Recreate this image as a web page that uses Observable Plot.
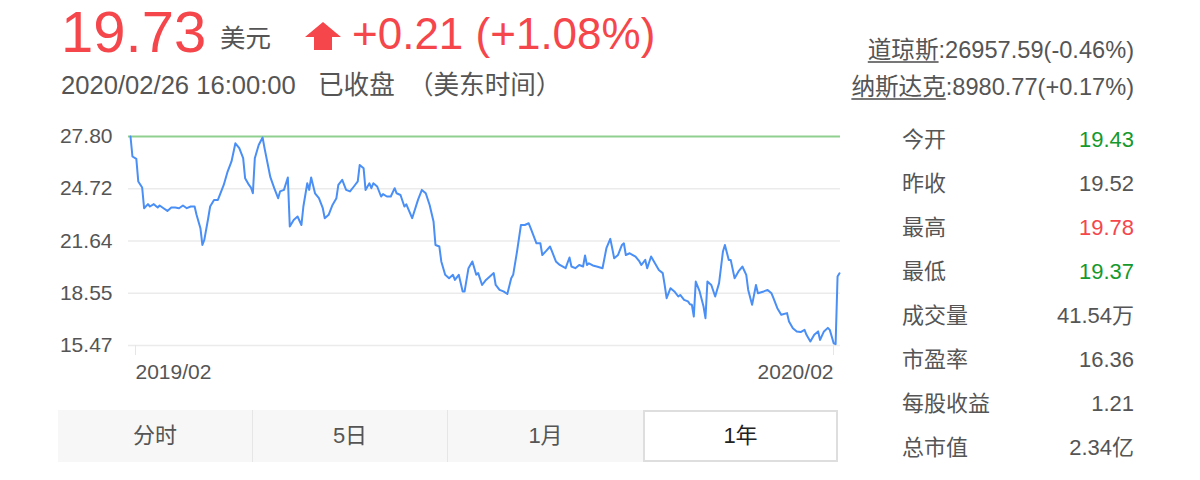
<!DOCTYPE html>
<html><head><meta charset="utf-8">
<script src="https://cdn.jsdelivr.net/npm/d3@7"></script>
<script src="https://cdn.jsdelivr.net/npm/@observablehq/plot@0.6"></script>
<style>
body{margin:0;width:1200px;height:480px;background:#fff;position:relative;overflow:hidden;font-family:"Liberation Sans","Noto Sans CJK SC",sans-serif;color:#555;}
.a{position:absolute;white-space:nowrap;}
#chart{position:absolute;left:0;top:110px;}
.tab{position:absolute;top:410px;height:52px;line-height:52px;text-align:center;font-size:22px;color:#555;box-sizing:border-box;}
.row{position:absolute;left:902px;width:232px;height:30px;line-height:30px;font-size:22px;}
.row .v{position:absolute;right:0;top:0;}
.idx u{text-decoration-color:#777;text-underline-offset:3px;}
</style></head><body>
<div id="header"></div>
<div id="chart"></div>
<div id="tabs"></div>
<div id="stats"></div>
<script>
// ---- data ----
const quotePrice = "19.73";
const currency = "美元";
const change = "+0.21";
const changePct = "+1.08%";
const quoteTime = "2020/02/26 16:00:00";
const quoteStatus = "已收盘 （美东时间）";
const indexNames = ["道琼斯", "纳斯达克"];
const indexValues = ["26957.59", "8980.77"];
const indexChanges = ["-0.46%", "+0.17%"];

const startDate = "2019-02-26";
const endDate = "2020-02-26";
const dayOffsets = [0,1,3,4,6,7,9,10,12,14,15,17,19,21,23,25,27,29,31,33,34,36,37,38,40,41,43,45,47,48,50,52,54,56,58,59,61,62,63,64,66,68,69,72,74,76,77,79,81,82,84,86,88,89,91,92,93,95,97,99,100,102,104,106,107,109,111,113,115,117,118,120,121,123,124,125,127,129,130,132,134,136,137,139,141,142,145,148,150,152,154,156,157,159,160,162,164,166,167,169,171,172,174,176,178,179,181,183,185,187,188,190,192,194,196,197,199,201,203,205,206,209,211,212,214,216,217,219,221,224,226,227,229,231,233,234,235,236,238,240,243,245,247,248,249,251,253,254,255,257,260,262,263,265,266,268,270,272,274,275,276,278,280,282,283,285,287,288,289,290,291,293,295,296,297,299,301,303,305,306,308,309,311,313,315,317,318,320,322,323,326,328,330,331,333,335,338,339,341,343,345,347,348,350,352,354,355,357,359,360,361,362,363,364,365];
const prices = [27.80,26.62,26.48,25.15,24.79,23.57,23.81,23.67,23.81,23.61,23.73,23.57,23.41,23.61,23.61,23.57,23.73,23.57,23.67,23.67,23.18,22.39,21.40,21.70,22.98,23.67,24.06,24.06,24.65,24.94,25.73,26.33,27.40,27.11,26.52,25.34,24.94,24.79,24.45,26.52,27.30,27.74,27.11,25.40,24.75,24.16,24.56,24.65,25.38,22.49,22.88,23.08,22.58,23.67,25.04,24.65,25.38,24.45,24.16,23.57,22.98,23.18,23.76,24.16,24.94,25.24,24.65,24.56,24.85,25.15,26.12,25.93,24.65,25.04,24.75,25.04,24.85,24.26,24.40,24.26,24.26,24.75,24.45,24.35,23.67,23.80,22.98,24.06,24.65,24.45,23.76,22.79,21.40,21.31,20.43,19.64,19.44,19.64,19.34,19.64,18.66,18.66,20.03,20.43,19.64,19.74,19.04,19.34,19.54,19.74,19.04,18.75,18.66,18.51,19.44,19.64,21.02,22.58,22.58,22.68,22.39,21.50,21.50,20.81,21.05,21.31,21.02,20.43,20.22,20.03,20.66,20.13,20.03,20.22,20.13,20.78,20.22,20.32,20.19,20.13,20.03,21.21,21.76,21.21,20.62,20.81,21.40,21.50,20.81,20.91,20.72,20.43,20.22,20.52,20.03,20.72,20.32,19.93,19.74,19.04,18.26,18.85,18.66,18.36,18.45,18.16,18.07,17.90,17.87,17.18,19.24,18.66,17.77,17.08,19.24,19.04,18.36,19.15,21.02,21.40,20.52,20.52,19.44,19.84,20.13,19.64,18.75,17.87,19.04,18.55,18.66,18.75,18.55,18.26,17.67,17.28,17.38,16.89,16.49,16.30,16.26,16.39,16.10,15.71,16.10,16.30,15.80,16.30,16.51,16.39,16.00,15.60,15.55,19.54,19.73];
const yTicks = [27.80, 24.72, 21.64, 18.55, 15.47];
const yearHigh = 27.80;
const xTickDates = ["2019-02-26", "2020-02-26"];
const tabLabels = ["分时", "5日", "1月", "1年"];
const selectedTab = "1年";
const statLabels = ["今开", "昨收", "最高", "最低", "成交量", "市盈率", "每股收益", "总市值"];
const statValues = ["19.43", "19.52", "19.78", "19.37", "41.54万", "16.36", "1.21", "2.34亿"];
const prevClose = 19.52;

// ---- colours ----
const RED = "#f5464b", GREEN = "#16992c", GRAY = "#555";

// ---- header ----
const header = document.getElementById("header");
header.innerHTML = `
<div class="a" style="left:61px;top:3px;font-size:58px;line-height:58px;color:${RED}">${quotePrice}</div>
<div class="a" style="left:220px;top:26px;font-size:25.5px;line-height:25px;color:${GRAY}">${currency}</div>
<svg class="a" style="left:305px;top:22px" width="36" height="28"><polygon points="18,0 36,15 27,15 27,28 9,28 9,15 0,15" fill="${RED}"/></svg>
<div class="a" style="left:352px;top:12px;font-size:44px;line-height:44px;color:${RED}">${change} (${changePct})</div>
<div class="a" style="left:61px;top:73px;font-size:25.6px;line-height:25px;color:${GRAY}">${quoteTime}</div>
<div class="a" style="left:318px;top:73px;font-size:25.6px;line-height:25px;word-spacing:6px;color:${GRAY}">${quoteStatus}</div>
${indexNames.map((n,i)=>`<div class="a idx" style="right:66px;top:${38+i*37}px;font-size:23.6px;line-height:24px;color:${GRAY}"><u>${n}</u>:${indexValues[i]}(${indexChanges[i]})</div>`).join("")}
`;

// ---- stats ----
const stats = document.getElementById("stats");
stats.innerHTML = statLabels.map((l,i)=>{
  let c = GRAY;
  if (i < 4) { const v = +statValues[i]; c = v > prevClose ? RED : v < prevClose ? GREEN : GRAY; }
  return `<div class="row" style="top:${125+i*44}px"><span>${l}</span><span class="v" style="color:${c}">${statValues[i]}</span></div>`;
}).join("");

// ---- tabs ----
const tabs = document.getElementById("tabs");
tabs.innerHTML = `<div class="a" style="left:58px;top:410px;width:780px;height:52px;background:#f7f7f7"></div>` +
  tabLabels.map((t,i)=>{
    const sel = t === selectedTab;
    const style = sel ? "background:#fff;border:2px solid #dedede;line-height:48px;color:#222" :
      (i < tabLabels.length-2 ? "border-right:1px solid #e6e6e6" : "");
    return `<div class="tab" style="left:${58+i*195}px;width:195px;${style}">${t}</div>`;
  }).join("");

// ---- chart ----
const start = new Date(startDate + "T00:00:00Z");
const data = dayOffsets.map((d,i)=>({date: d3.utcDay.offset(start, d), price: prices[i]}));
const xt = xTickDates.map(s => new Date(s + "T00:00:00Z"));
const fmtX = d3.utcFormat("%Y/%m");
const chart = Plot.plot({
  width: 860,
  height: 290,
  marginLeft: 128,
  marginRight: 20,
  marginTop: 26,
  marginBottom: 55,
  x: {type: "utc", domain: [start, new Date(endDate + "T00:00:00Z")], insetLeft: 2, insetRight: 1},
  y: {domain: [yTicks[yTicks.length-1], yTicks[0]]},
  style: {fontFamily: '"Liberation Sans","Noto Sans CJK SC",sans-serif', fontSize: "21px", color: GRAY, background: "transparent", overflow: "visible"},
  marks: [
    Plot.ruleY(yTicks.slice(1), {stroke: "#ebebeb", strokeWidth: 1.5}),
    Plot.ruleY([yearHigh], {stroke: "#8fcf8f", strokeWidth: 2}),
    Plot.axisY(yTicks, {tickSize: 0, tickPadding: 16, tickFormat: d3.format(".2f"), label: null, fontSize: 21, fill: GRAY}),
    Plot.axisX([xt[0]], {tickSize: 10, tickPadding: 9, stroke: "#e6e6e6", fill: GRAY, tickFormat: fmtX, textAnchor: "start", dx: 5, label: null, fontSize: 21}),
    Plot.axisX([xt[1]], {tickSize: 10, tickPadding: 9, stroke: "#e6e6e6", fill: GRAY, tickFormat: fmtX, textAnchor: "end", dx: -6, label: null, fontSize: 21}),
    Plot.line(data, {x: "date", y: "price", stroke: "#4a8ff5", strokeWidth: 2})
  ]
});
document.getElementById("chart").appendChild(chart);
</script>
</body></html>
